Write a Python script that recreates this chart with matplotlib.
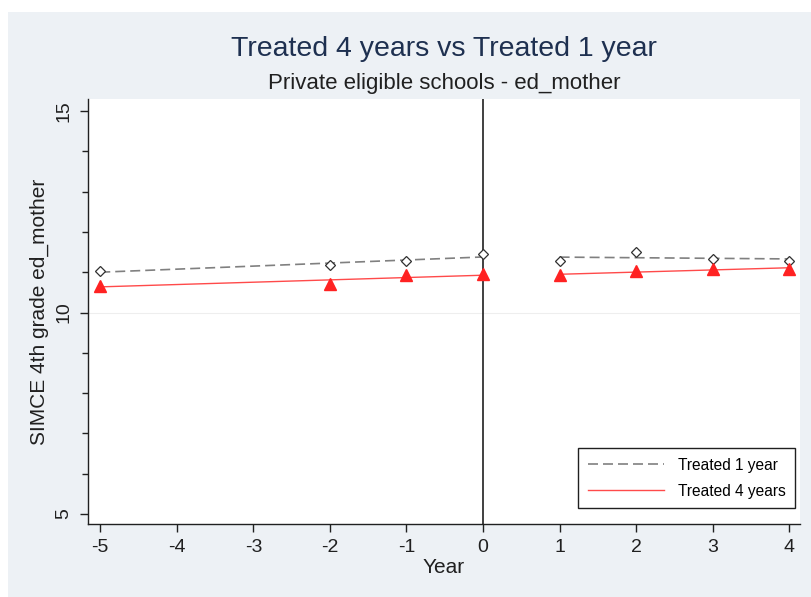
import numpy as np
import matplotlib
matplotlib.use("Agg")
import matplotlib.pyplot as plt
from matplotlib.patches import Rectangle
from matplotlib.ticker import MultipleLocator

plt.rcParams['font.family'] = ['Liberation Sans', 'DejaVu Sans']
plt.rcParams['axes.unicode_minus'] = False

# data
years = [-5, -2, -1, 0, 1, 2, 3, 4]
treated_1 = [11.03, 11.17, 11.27, 11.44, 11.29, 11.49, 11.34, 11.29]
treated_4 = [10.67, 10.70, 10.92, 10.95, 10.92, 11.04, 11.07, 11.09]
xticks = [-5, -4, -3, -2, -1, 0, 1, 2, 3, 4]
yticks = [5, 10, 15]

title = "Treated 4 years vs Treated 1 year"
subtitle = "Private eligible schools - ed_mother"

bg = '#edf1f5'
W, H = 812, 597

fig = plt.figure(figsize=(W / 100, H / 100), dpi=100)
fig.patch.set_facecolor('white')
# stata-like outer region (leaves thin white band top/left)
fig.patches.append(Rectangle((8 / W, 0), 1, 1 - 12 / H, transform=fig.transFigure,
                             facecolor=bg, edgecolor='none', zorder=-10))

ax = fig.add_axes([88 / W, 1 - 524 / H, (800 - 88) / W, (524 - 99) / H])
ax.set_facecolor('white')
for s in ['top', 'right']:
    ax.spines[s].set_visible(False)
for s in ['left', 'bottom']:
    ax.spines[s].set_color('#202020')
    ax.spines[s].set_linewidth(1.0)

x = np.array(years)
y1 = np.array(treated_1)
y4 = np.array(treated_4)
pre = x <= 0
post = x >= 1


def fit(xs, ys):
    b = np.polyfit(xs, ys, 1)
    xx = np.array([xs.min(), xs.max()])
    return xx, np.polyval(b, xx)


ax.axhline(10, color='#eeeeee', lw=0.8, zorder=0)
ax.axvline(0, color='#202020', lw=1.2, zorder=1)

for m in [pre, post]:
    xx, yy = fit(x[m], y1[m])
    ax.plot(xx, yy, color='#808080', lw=1.2, dashes=(6, 3), zorder=2,
            label='Treated 1 year' if m is pre else None)
    xx, yy = fit(x[m], y4[m])
    ax.plot(xx, yy, color='#ff4a4a', lw=1.0, zorder=2,
            label='Treated 4 years' if m is pre else None)

ax.plot(x, y1, ls='none', marker='D', ms=5.5, mfc='white', mec='#303030', mew=0.9, zorder=3)
ax.plot(x, y4, ls='none', marker='^', ms=8, mfc='#ff2222', mec='#ff2222', zorder=3)

ax.set_xlim(-5.16, 4.14)
ax.set_ylim(4.75, 15.3)
ax.set_xticks(xticks)
ax.set_yticks(yticks)
ax.yaxis.set_minor_locator(MultipleLocator(1))
ax.tick_params(axis='both', which='major', length=6, width=1, color='#202020',
               labelsize=14, labelcolor='#202020', pad=5)
ax.tick_params(axis='y', which='minor', length=4, width=1, color='#202020')
for lab in ax.get_yticklabels():
    lab.set_rotation(90)
    lab.set_va('center')

ax.set_xlabel('Year', fontsize=15, color='#202020', labelpad=1)
ax.set_ylabel('SIMCE 4th grade ed_mother', fontsize=15, color='#202020', labelpad=5)

leg = ax.legend(loc='lower right', bbox_to_anchor=(0.993, 0.038), fontsize=11.2,
                frameon=True, fancybox=False, edgecolor='#202020', framealpha=1,
                handlelength=4.9, borderpad=0.6, labelspacing=0.7, handletextpad=0.9,
                borderaxespad=0)
leg.get_frame().set_linewidth(1.0)

fig.text(444 / W, 1 - 49 / H, title, ha='center', va='center', fontsize=20.5, color='#1e3050')
fig.text(444 / W, 1 - 84 / H, subtitle, ha='center', va='center', fontsize=16, color='#202020')

fig.savefig('out.png', dpi=100, facecolor=fig.get_facecolor())
